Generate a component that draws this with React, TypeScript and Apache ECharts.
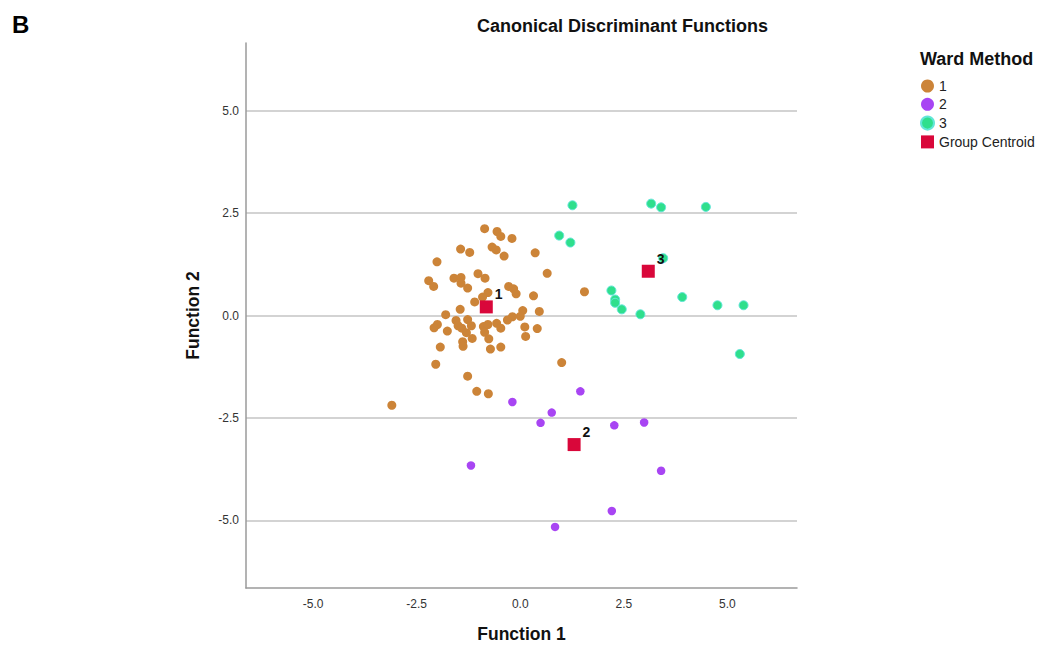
import React, { useEffect, useRef } from "react";
import * as echarts from "echarts";

const tickValues = [-5, -2.5, 0, 2.5, 5];

const group1: number[][] = [
  [-0.86, 2.12], [-0.56, 2.05], [-0.47, 1.93], [-0.2, 1.88], [-1.44, 1.62],
  [-1.22, 1.54], [-0.68, 1.67], [-0.58, 1.6], [-0.39, 1.45], [0.36, 1.53],
  [-2.01, 1.31], [-1.02, 1.02], [-0.85, 0.91], [-1.6, 0.91], [-1.43, 0.93],
  [-1.43, 0.79], [-2.21, 0.85], [-2.09, 0.71], [-1.27, 0.67], [0.65, 1.03],
  [-0.28, 0.71], [-0.16, 0.65], [-0.1, 0.53], [-0.78, 0.56], [-0.91, 0.45],
  [-1.1, 0.33], [0.32, 0.48], [-1.45, 0.15], [-1.8, 0.02], [0.06, 0.12],
  [0.0, -0.02], [-0.19, -0.03], [-0.31, -0.11], [0.46, 0.1], [-1.27, -0.1],
  [-1.55, -0.12], [-1.5, -0.25], [-1.41, -0.31], [-1.3, -0.42], [-1.18, -0.25],
  [-2.0, -0.22], [-2.08, -0.3], [-1.76, -0.38], [-0.89, -0.27], [-0.78, -0.22],
  [-0.57, -0.19], [-0.47, -0.31], [-0.86, -0.41], [-0.76, -0.57], [0.11, -0.28],
  [0.41, -0.32], [0.13, -0.51], [-1.16, -0.56], [-1.39, -0.64], [-1.38, -0.75],
  [-0.72, -0.82], [-0.47, -0.77], [-1.93, -0.77], [-2.04, -1.19], [-1.27, -1.48],
  [-1.05, -1.85], [-0.77, -1.91], [1.0, -1.15], [-3.1, -2.19], [1.55, 0.58],
];

const group2: number[][] = [
  [-0.19, -2.11], [1.45, -1.85], [0.76, -2.37], [0.49, -2.62], [2.27, -2.68],
  [2.99, -2.61], [-1.19, -3.66], [3.4, -3.79], [2.21, -4.77], [0.84, -5.16],
];

const group3: number[][] = [
  [1.26, 2.69], [3.16, 2.73], [3.4, 2.64], [4.48, 2.65], [0.94, 1.95],
  [1.21, 1.78], [3.45, 1.4], [2.2, 0.61], [2.29, 0.39], [2.29, 0.31],
  [2.45, 0.15], [2.9, 0.03], [3.91, 0.45], [4.76, 0.25], [5.39, 0.25],
  [5.3, -0.94],
];

const centroids: { name: string; value: number[] }[] = [
  { name: "1", value: [-0.82, 0.21] },
  { name: "2", value: [1.3, -3.15] },
  { name: "3", value: [3.09, 1.08] },
];

const FONT = "'Liberation Sans', Arial, sans-serif";

export default function App() {
  const ref = useRef<HTMLDivElement>(null);
  useEffect(() => {
    if (!ref.current) return;
    const chart = echarts.init(ref.current, null, { renderer: "svg" });
    const axisCommon = {
      type: "value" as const,
      axisLine: { show: true, onZero: false, lineStyle: { color: "#9a9a9a", width: 1.5 } },
      axisTick: { show: false, customValues: tickValues },
      axisLabel: {
        customValues: tickValues,
        formatter: (v: number) => v.toFixed(1),
        color: "#333",
        fontSize: 12,
        fontFamily: FONT,
      },
      nameLocation: "middle" as const,
      nameTextStyle: { fontSize: 17.5, fontWeight: "bold" as const, color: "#111", fontFamily: FONT },
    };
    chart.setOption({
      animation: false,
      backgroundColor: "#fff",
      title: {
        text: "Canonical Discriminant Functions",
        left: 477,
        top: 17,
        padding: 0,
        textStyle: { fontSize: 18, fontWeight: "bold", color: "#111", fontFamily: FONT },
      },
      graphic: [
        {
          type: "text",
          left: 12,
          top: 12,
          style: { text: "B", fill: "#000", font: `bold 24px ${FONT}` },
        },
        {
          type: "text",
          left: 920,
          top: 50,
          style: { text: "Ward Method", fill: "#111", font: `bold 18px ${FONT}` },
        },
      ],
      legend: {
        orient: "vertical",
        left: 920,
        top: 79,
        padding: 0,
        itemGap: 4.3,
        itemWidth: 13,
        itemHeight: 13,
        textStyle: { fontSize: 14, color: "#222", fontFamily: FONT },
        data: [
          { name: "1", icon: "circle" },
          { name: "2", icon: "circle" },
          { name: "3", icon: "circle" },
          { name: "Group Centroid", icon: "rect" },
        ],
      },
      grid: { left: 246, right: 241, top: 43, bottom: 55 },
      xAxis: {
        ...axisCommon,
        min: -6.62,
        max: 6.68,
        splitLine: { show: false },
        name: "Function 1",
        nameGap: 37,
        axisLabel: { ...axisCommon.axisLabel, margin: 10 },
      },
      yAxis: {
        ...axisCommon,
        min: -6.65,
        max: 6.65,
        splitLine: { show: true, lineStyle: { color: "#c4c4c4", width: 1.5 } },
        name: "Function 2",
        nameGap: 44,
        axisLabel: { ...axisCommon.axisLabel, margin: 7 },
      },
      series: [
        {
          name: "1",
          type: "scatter",
          symbol: "circle",
          symbolSize: 9,
          itemStyle: { color: "#CC8438", opacity: 1 },
          data: group1,
        },
        {
          name: "2",
          type: "scatter",
          symbol: "circle",
          symbolSize: 8.5,
          itemStyle: { color: "#A845F3", opacity: 1 },
          data: group2,
        },
        {
          name: "3",
          type: "scatter",
          symbol: "circle",
          symbolSize: 9,
          itemStyle: { color: "#2FDF8C", borderColor: "#62E6D8", borderWidth: 1, opacity: 1 },
          data: group3,
        },
        {
          name: "Group Centroid",
          type: "scatter",
          symbol: "rect",
          symbolSize: 13,
          itemStyle: { color: "#D9073A", borderWidth: 0, opacity: 1 },
          label: {
            show: true,
            formatter: (p: any) => p.name,
            position: [15, -13],
            fontSize: 14,
            fontWeight: "bold",
            color: "#111",
            fontFamily: FONT,
          },
          data: centroids,
          z: 5,
        },
      ],
    });
    return () => chart.dispose();
  }, []);
  return (
    <div
      ref={ref}
      style={{ position: "fixed", left: 0, top: 0, width: 1038, height: 648, background: "#fff" }}
    />
  );
}
